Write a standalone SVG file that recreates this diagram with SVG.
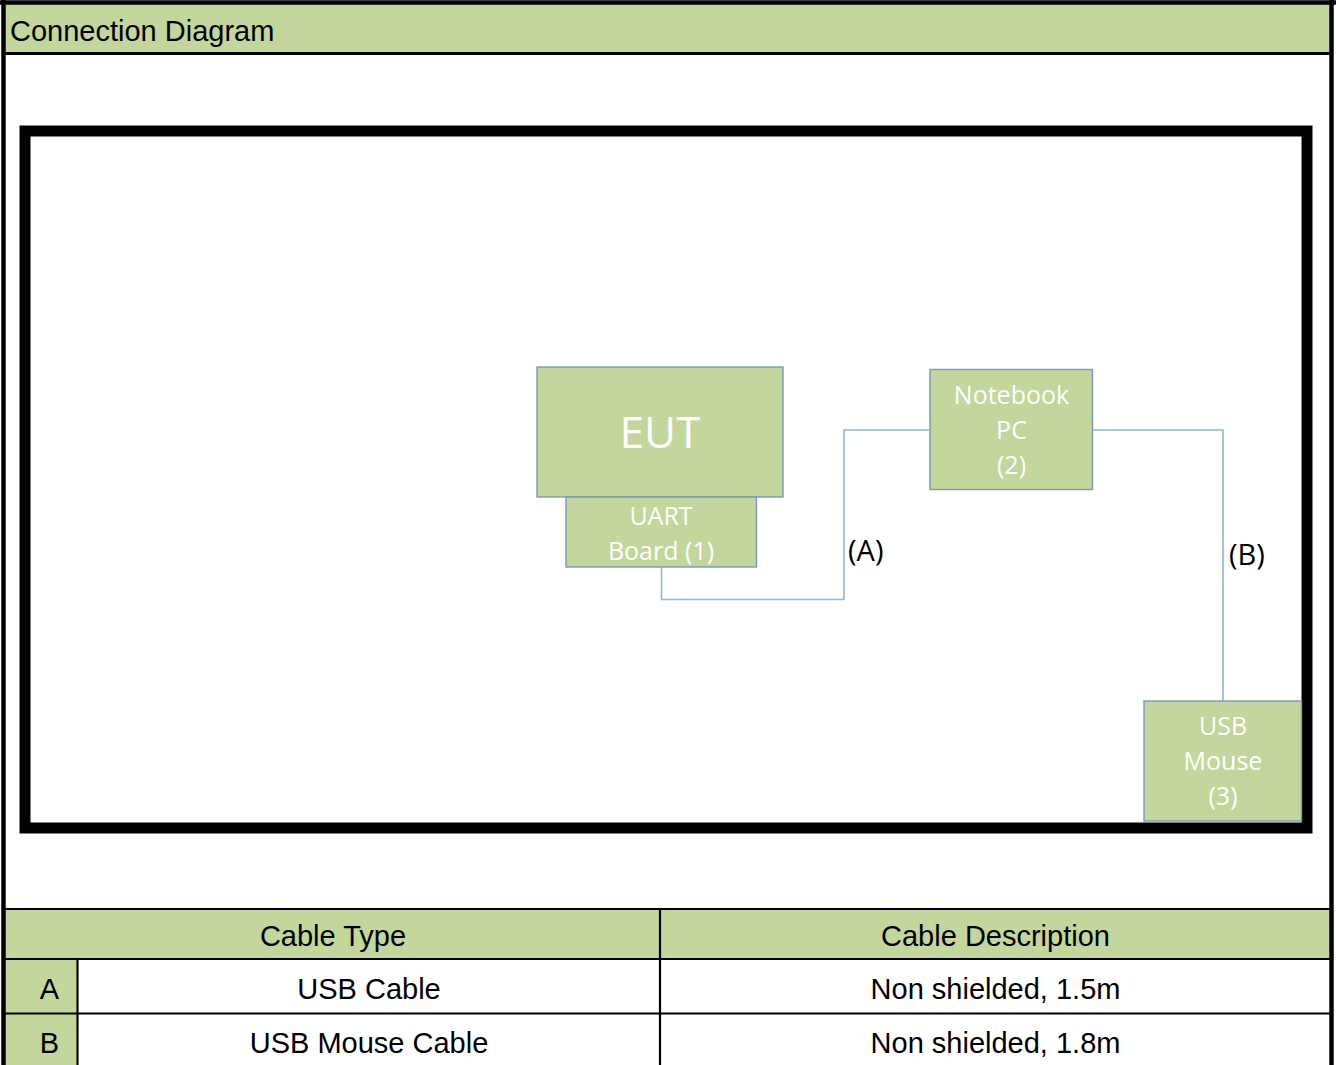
<svg xmlns="http://www.w3.org/2000/svg" width="1336" height="1065" viewBox="0 0 1336 1065">
  <style>
    .hdr { fill: #C3D69B; }
    .rule { stroke: #000; stroke-width: 2.2; fill: none; }
    .tbl { font-family: "Liberation Sans", Arial, sans-serif; font-size: 29px; fill: #000; }
    .node rect { fill: #C3D69B; stroke: #7D98B8; stroke-width: 1.4; }
    .ntext { font-family: "Open Sans", "DejaVu Sans", sans-serif; font-size: 25px; fill: #FFFFFF; text-anchor: middle; }
    .conn { fill: none; stroke: #8DB6E2; stroke-width: 1.6; }
    .clabel { font-family: "Open Sans", "DejaVu Sans", sans-serif; font-size: 29px; fill: #000; }
  </style>
  <rect x="0" y="0" width="1336" height="1065" fill="#FFFFFF"/>

  <!-- Header band -->
  <g id="header">
    <rect class="hdr" x="4" y="4" width="1327" height="49"/>
    <line x1="4" y1="53.5" x2="1331" y2="53.5" stroke="#000" stroke-width="3"/>
    <text class="tbl" x="10" y="41">Connection Diagram</text>
  </g>

  <!-- Diagram frame -->
  <rect id="frame" x="25" y="131" width="1282" height="697" fill="none" stroke="#000" stroke-width="11"/>

  <!-- Connectors -->
  <g id="connectors">
    <polyline class="conn" points="661.5,567 661.5,599.5 844,599.5 844,430 929.5,430"/>
    <polyline class="conn" points="1093,430 1223,430 1223,701"/>
    <text class="clabel" x="848" y="561">(A)</text>
    <text class="clabel" x="1229" y="565">(B)</text>
  </g>

  <!-- Nodes -->
  <g id="eut" class="node">
    <rect x="537" y="367" width="246" height="130"/>
    <text class="ntext" x="660" y="448" style="font-size:44px">EUT</text>
  </g>
  <g id="uart" class="node">
    <rect x="566" y="497" width="190.5" height="70"/>
    <text class="ntext" x="661" y="525">UART</text>
    <text class="ntext" x="661" y="560">Board (1)</text>
  </g>
  <g id="notebook" class="node">
    <rect x="930" y="369.5" width="162.5" height="120"/>
    <text class="ntext" x="1011.5" y="404">Notebook</text>
    <text class="ntext" x="1011.5" y="439">PC</text>
    <text class="ntext" x="1011.5" y="474">(2)</text>
  </g>
  <g id="mouse" class="node">
    <rect x="1144" y="701" width="157.5" height="120"/>
    <text class="ntext" x="1223" y="735">USB</text>
    <text class="ntext" x="1223" y="770">Mouse</text>
    <text class="ntext" x="1223" y="805">(3)</text>
  </g>

  <!-- Cable table -->
  <g id="table">
    <rect class="hdr" x="5" y="909" width="1325" height="50"/>
    <rect class="hdr" x="5" y="959" width="72.5" height="106"/>
    <line class="rule" x1="4" y1="909" x2="1331" y2="909"/>
    <line class="rule" x1="4" y1="959" x2="1331" y2="959"/>
    <line class="rule" x1="4" y1="1013.5" x2="1331" y2="1013.5"/>
    <line class="rule" x1="77.5" y1="959" x2="77.5" y2="1065"/>
    <line class="rule" x1="660" y1="909" x2="660" y2="1065"/>
    <text class="tbl" x="333" y="945.5" text-anchor="middle">Cable Type</text>
    <text class="tbl" x="995.5" y="945.5" text-anchor="middle">Cable Description</text>
    <text class="tbl" x="49.5" y="998.5" text-anchor="middle">A</text>
    <text class="tbl" x="369" y="998.5" text-anchor="middle">USB Cable</text>
    <text class="tbl" x="995.5" y="998.5" text-anchor="middle">Non shielded, 1.5m</text>
    <text class="tbl" x="49.5" y="1052.5" text-anchor="middle">B</text>
    <text class="tbl" x="369" y="1052.5" text-anchor="middle">USB Mouse Cable</text>
    <text class="tbl" x="995.5" y="1052.5" text-anchor="middle">Non shielded, 1.8m</text>
  </g>

  <!-- Outer border -->
  <g id="border">
    <line x1="3.5" y1="0" x2="3.5" y2="1065" stroke="#000" stroke-width="4.5"/>
    <line x1="1331.5" y1="0" x2="1331.5" y2="1065" stroke="#000" stroke-width="4.5"/>
    <line x1="0" y1="2.5" x2="1336" y2="2.5" stroke="#000" stroke-width="4.5"/>
  </g>
</svg>
